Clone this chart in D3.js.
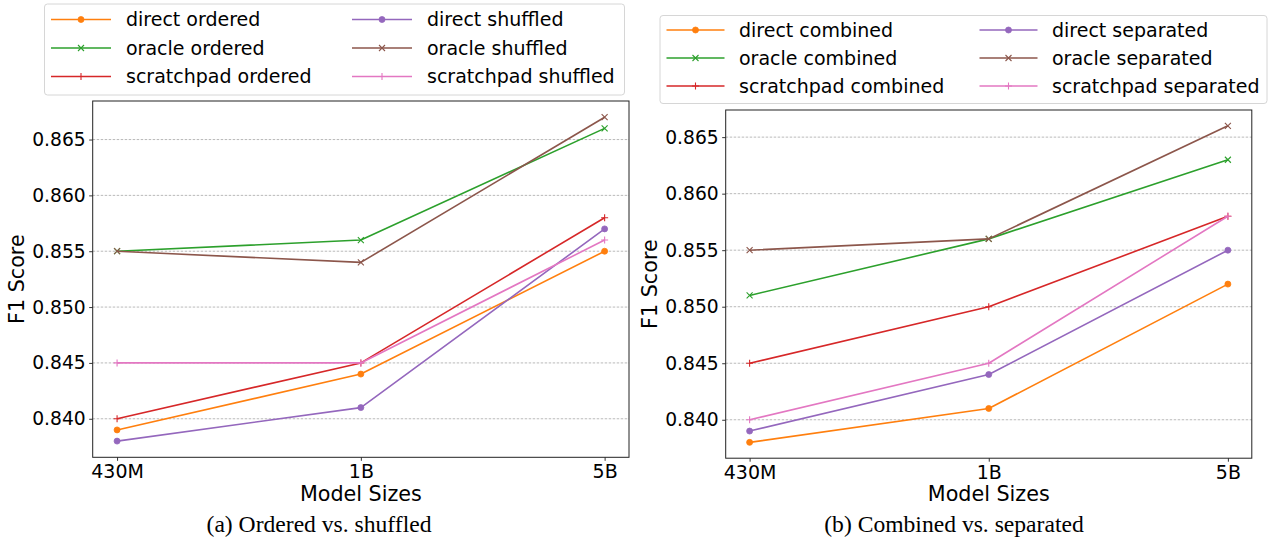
<!DOCTYPE html>
<html>
<head>
<meta charset="utf-8">
<script src="https://cdn.jsdelivr.net/npm/d3@7"></script>
<style>
  html, body { margin: 0; padding: 0; background: #fff; }
  svg { display: block; }
</style>
</head>
<body>
<svg id="chart" width="1270" height="541"></svg>
<script>
// Shared categories
const modelSizes = ["430M", "1B", "5B"];
const yTicks = [0.840, 0.845, 0.850, 0.855, 0.860, 0.865];

// (a) Ordered vs. shuffled
const directOrdered       = [0.839, 0.844, 0.855];
const oracleOrdered       = [0.855, 0.856, 0.866];
const scratchpadOrdered   = [0.840, 0.845, 0.858];
const directShuffled      = [0.838, 0.841, 0.857];
const oracleShuffled      = [0.855, 0.854, 0.867];
const scratchpadShuffled  = [0.845, 0.845, 0.856];

// (b) Combined vs. separated
const directCombined      = [0.838, 0.841, 0.852];
const oracleCombined      = [0.851, 0.856, 0.863];
const scratchpadCombined  = [0.845, 0.850, 0.858];
const directSeparated     = [0.839, 0.844, 0.855];
const oracleSeparated     = [0.855, 0.856, 0.866];
const scratchpadSeparated = [0.840, 0.845, 0.858];

const C = {
  orange: "#ff7f0e", green: "#2ca02c", red: "#d62728",
  purple: "#9467bd", brown: "#8c564b", pink: "#e377c2"
};

const panels = [
  {
    caption: "(a) Ordered vs. shuffled",
    box: { x0: 92.7, x1: 629, y0: 101, y1: 457.3 },
    captionX: 319,
    legend: { x: 44, y: 3.5, w: 580, h: 91, col2: 301, handle0: 7, handleLen: 60, textX: 82, row0: 16, rowH: 28.5 },
    series: [
      { name: "direct ordered", values: directOrdered, color: C.orange, marker: "o" },
      { name: "oracle ordered", values: oracleOrdered, color: C.green, marker: "x" },
      { name: "scratchpad ordered", values: scratchpadOrdered, color: C.red, marker: "+" },
      { name: "direct shuffled", values: directShuffled, color: C.purple, marker: "o" },
      { name: "oracle shuffled", values: oracleShuffled, color: C.brown, marker: "x" },
      { name: "scratchpad shuffled", values: scratchpadShuffled, color: C.pink, marker: "+" }
    ]
  },
  {
    caption: "(b) Combined vs. separated",
    box: { x0: 725.7, x1: 1251.8, y0: 110, y1: 458.2 },
    captionX: 954,
    legend: { x: 659.5, y: 15, w: 607, h: 88, col2: 313, handle0: 7, handleLen: 58, textX: 79.5, row0: 15, rowH: 28 },
    series: [
      { name: "direct combined", values: directCombined, color: C.orange, marker: "o" },
      { name: "oracle combined", values: oracleCombined, color: C.green, marker: "x" },
      { name: "scratchpad combined", values: scratchpadCombined, color: C.red, marker: "+" },
      { name: "direct separated", values: directSeparated, color: C.purple, marker: "o" },
      { name: "oracle separated", values: oracleSeparated, color: C.brown, marker: "x" },
      { name: "scratchpad separated", values: scratchpadSeparated, color: C.pink, marker: "+" }
    ]
  }
];

const svg = d3.select("#chart");
const SANS = "DejaVu Sans, sans-serif";

function drawMarker(g, type, color, x, y) {
  if (type === "o") {
    g.append("circle").attr("cx", x).attr("cy", y).attr("r", 3)
      .attr("fill", color).attr("stroke", color).attr("stroke-width", 0.8);
  } else if (type === "x") {
    const s = 3;
    g.append("path")
      .attr("d", `M${x - s},${y - s}L${x + s},${y + s}M${x - s},${y + s}L${x + s},${y - s}`)
      .attr("stroke", color).attr("stroke-width", 1.1).attr("fill", "none");
  } else {
    const s = 3.5;
    g.append("path")
      .attr("d", `M${x - s},${y}L${x + s},${y}M${x},${y - s}L${x},${y + s}`)
      .attr("stroke", color).attr("stroke-width", 1.1).attr("fill", "none");
  }
}

panels.forEach(p => {
  const { x0, x1, y0, y1 } = p.box;

  // Point scale with 5% margins on either side
  const n = modelSizes.length;
  const pad = (n - 1) * 0.05;
  const xLin = d3.scaleLinear().domain([-pad, n - 1 + pad]).range([x0, x1]);
  const x = d3.scalePoint().domain(modelSizes)
    .range([xLin(0), xLin(n - 1)]);

  const allVals = p.series.flatMap(s => s.values);
  const lo = d3.min(allVals), hi = d3.max(allVals);
  const m = (hi - lo) * 0.05;
  const y = d3.scaleLinear().domain([lo - m, hi + m]).range([y1, y0]);

  const g = svg.append("g");

  // Horizontal grid
  g.append("g").selectAll("line").data(yTicks).join("line")
    .attr("x1", x0).attr("x2", x1)
    .attr("y1", d => y(d)).attr("y2", d => y(d))
    .attr("stroke", "#a8a8a8").attr("stroke-width", 0.8)
    .attr("stroke-dasharray", "2.5,1.5");

  // Series lines and markers
  const line = d3.line().x((d, i) => x(modelSizes[i])).y(d => y(d));
  p.series.forEach(s => {
    const sg = g.append("g");
    sg.append("path").datum(s.values).attr("d", line)
      .attr("fill", "none").attr("stroke", s.color).attr("stroke-width", 1.6)
      .attr("stroke-linejoin", "round");
    s.values.forEach((v, i) => drawMarker(sg, s.marker, s.color, x(modelSizes[i]), y(v)));
  });

  // Axes
  const yAxis = d3.axisLeft(y).tickValues(yTicks).tickFormat(d3.format(".3f"))
    .tickSize(3.5).tickPadding(3.5);
  const yg = g.append("g").attr("transform", `translate(${x0},0)`).call(yAxis);
  const xAxis = d3.axisBottom(x).tickSize(3.5).tickPadding(3.5);
  const xg = g.append("g").attr("transform", `translate(0,${y1})`).call(xAxis);
  [yg, xg].forEach(a => {
    a.select(".domain").remove();
    a.selectAll(".tick line").attr("stroke", "#000").attr("stroke-width", 0.8);
    a.selectAll(".tick text").attr("fill", "#000").attr("font-family", SANS).attr("font-size", 18.7);
  });
  xg.selectAll(".tick text").attr("font-size", 19).attr("dy", "0.74em");

  // Frame
  g.append("rect").attr("x", x0).attr("y", y0).attr("width", x1 - x0).attr("height", y1 - y0)
    .attr("fill", "none").attr("stroke", "#222").attr("stroke-width", 1);

  // Axis titles
  const cx = (x0 + x1) / 2;
  g.append("text").attr("x", cx).attr("y", 501).attr("text-anchor", "middle")
    .attr("font-family", SANS).attr("font-size", 20.7).attr("fill", "#000").text("Model Sizes");
  const cy = (y0 + y1) / 2;
  g.append("text").attr("transform", `translate(${x0 - 69},${cy}) rotate(-90)`)
    .attr("text-anchor", "middle").attr("font-family", SANS).attr("font-size", 20.7)
    .attr("fill", "#000").text("F1 Score");

  // Caption
  g.append("text").attr("x", p.captionX).attr("y", 532).attr("text-anchor", "middle")
    .attr("font-family", "Liberation Serif, Times New Roman, serif").attr("font-size", 23.6)
    .attr("fill", "#000").text(p.caption);

  // Legend (two columns, filled column-wise)
  const L = p.legend;
  const lg = svg.append("g").attr("transform", `translate(${L.x},${L.y})`);
  lg.append("rect").attr("x", 0.5).attr("y", 0.5).attr("width", L.w).attr("height", L.h)
    .attr("rx", 3).attr("fill", "#fff").attr("fill-opacity", 0.8)
    .attr("stroke", "#d6d6d6").attr("stroke-width", 1);
  p.series.forEach((s, i) => {
    const col = Math.floor(i / 3), row = i % 3;
    const ox = col * L.col2;
    const ry = L.row0 + row * L.rowH;
    lg.append("line").attr("x1", ox + L.handle0).attr("x2", ox + L.handle0 + L.handleLen)
      .attr("y1", ry).attr("y2", ry).attr("stroke", s.color).attr("stroke-width", 1.6);
    drawMarker(lg, s.marker, s.color, ox + L.handle0 + L.handleLen / 2, ry);
    lg.append("text").attr("x", ox + L.textX).attr("y", ry).attr("dy", "0.36em")
      .attr("font-family", SANS).attr("font-size", 19).attr("fill", "#000").text(s.name);
  });
});
</script>
</body>
</html>
